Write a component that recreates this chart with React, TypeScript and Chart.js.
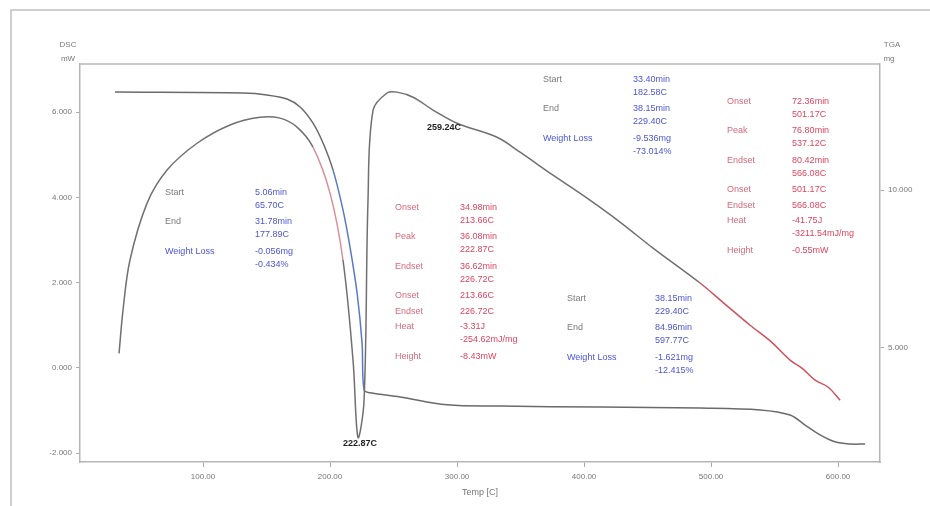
import React, { useEffect, useRef } from "react";
import { Chart, registerables } from "chart.js";
Chart.register(...registerables);

// ---- data (temperature in C) ----
const tgaTemp = [30.7, 131.5, 150.4, 166.1, 176.4, 186.6, 194.5, 202.4, 210.2, 215.7, 221.3, 225.2, 226.8, 231.5, 255.1, 292.1, 333.9, 412.6, 491.3, 538.6, 562.2, 574.0, 585.8, 597.6, 609.4, 621.3];
const tgaMass = [13.10, 13.07, 13.01, 12.88, 12.63, 12.12, 11.49, 10.63, 9.37, 8.20, 6.74, 5.16, 3.67, 3.58, 3.45, 3.20, 3.16, 3.13, 3.10, 3.04, 2.88, 2.56, 2.25, 2.03, 1.96, 1.96];

const dscTemp = [33.9, 37.0, 42.5, 55.9, 71.7, 95.3, 121.3, 144.9, 160.6, 174.0, 186.6, 200.0, 210.2, 218.1, 222.0, 226.8, 229.9, 233.9, 244.9, 252.8, 265.4, 281.1, 300.0, 331.5, 349.6, 375.6, 402.4, 428.3, 454.3, 491.3, 510.0, 530.7, 547.0, 562.2, 572.0, 581.9, 592.0, 601.6];
const dscHeatFlow = [0.34, 1.35, 2.53, 3.86, 4.64, 5.27, 5.70, 5.88, 5.86, 5.65, 5.18, 4.10, 2.53, 0.18, -1.63, -0.76, 3.93, 6.05, 6.45, 6.47, 6.35, 6.05, 5.74, 5.41, 5.06, 4.52, 3.98, 3.42, 2.81, 1.99, 1.52, 1.00, 0.62, 0.18, -0.02, -0.29, -0.45, -0.76];

const xTickValues = [100, 200, 300, 400, 500, 600];
const dscTickValues = [-2, 0, 2, 4, 6];
const tgaTickValues = [5, 10];

// ---- annotation texts ----
const blueLeftRows: [string, string[]][] = [["Start", ["5.06min", "65.70C"]], ["End", ["31.78min", "177.89C"]], ["Weight Loss", ["-0.056mg", "-0.434%"]]];
const blueTopRows: [string, string[]][] = [["Start", ["33.40min", "182.58C"]], ["End", ["38.15min", "229.40C"]], ["Weight Loss", ["-9.536mg", "-73.014%"]]];
const blueBottomRows: [string, string[]][] = [["Start", ["38.15min", "229.40C"]], ["End", ["84.96min", "597.77C"]], ["Weight Loss", ["-1.621mg", "-12.415%"]]];
const redMidRows: [string, string[]][] = [["Onset", ["34.98min", "213.66C"]], ["Peak", ["36.08min", "222.87C"]], ["Endset", ["36.62min", "226.72C"]], ["Onset", ["213.66C"]], ["Endset", ["226.72C"]], ["Heat", ["-3.31J", "-254.62mJ/mg"]], ["Height", ["-8.43mW"]]];
const redRightRows: [string, string[]][] = [["Onset", ["72.36min", "501.17C"]], ["Peak", ["76.80min", "537.12C"]], ["Endset", ["80.42min", "566.08C"]], ["Onset", ["501.17C"]], ["Endset", ["566.08C"]], ["Heat", ["-41.75J", "-3211.54mJ/mg"]], ["Height", ["-0.55mW"]]];
const peakLabels: [string, number, number][] = [["222.87C", 210.2, -1.77], ["259.24C", 276.4, 5.65]];

const BLUE = "#4b55d6";
const RED = "#e2445e";

const blocks = [
  { rows: blueLeftRows, labelT: 70.1, valueT: 140.9, startY: 4.12, kind: "blue" },
  { rows: blueTopRows, labelT: 367.7, valueT: 438.6, startY: 6.775, kind: "blue" },
  { rows: blueBottomRows, labelT: 386.6, valueT: 455.9, startY: 1.634, kind: "blue" },
  { rows: redMidRows, labelT: 251.2, valueT: 302.4, startY: 3.77, kind: "red" },
  { rows: redRightRows, labelT: 512.6, valueT: 563.8, startY: 6.258, kind: "red" },
];

const FONT = "'Liberation Sans', Arial, sans-serif";

const overlay = {
  id: "overlay",
  afterDraw(chart: any) {
    const ctx = chart.ctx;
    const a = chart.chartArea;
    const xs = chart.scales.x;
    const ys = chart.scales.y;
    ctx.save();
    // outer frame
    ctx.strokeStyle = "#cfcfcf";
    ctx.lineWidth = 2;
    ctx.beginPath();
    ctx.moveTo(11, 506);
    ctx.lineTo(11, 10);
    ctx.lineTo(930, 10);
    ctx.stroke();
    // top border of plot
    ctx.strokeStyle = "#b8b8b8";
    ctx.lineWidth = 1.5;
    ctx.beginPath();
    ctx.moveTo(a.left, a.top);
    ctx.lineTo(a.right, a.top);
    ctx.stroke();
    // axis titles
    ctx.fillStyle = "#777";
    ctx.font = `8px ${FONT}`;
    ctx.textBaseline = "middle";
    ctx.textAlign = "center";
    ctx.fillText("DSC", a.left - 12, 45);
    ctx.fillText("mW", a.left - 12, 59);
    ctx.fillText("TGA", a.right + 12, 45);
    ctx.fillText("mg", a.right + 9, 59);
    ctx.font = `9px ${FONT}`;
    ctx.fillText("Temp [C]", (a.left + a.right) / 2, 493);
    // blocks
    ctx.font = `9px ${FONT}`;
    ctx.textAlign = "left";
    for (const b of blocks) {
      const lx = xs.getPixelForValue(b.labelT);
      const vx = xs.getPixelForValue(b.valueT);
      let y = ys.getPixelForValue(b.startY);
      for (const [label, vals] of b.rows) {
        if (b.kind === "blue") {
          ctx.fillStyle = label === "Weight Loss" ? BLUE : "#7a7a7a";
        } else {
          ctx.fillStyle = "#d86a7c";
        }
        ctx.fillText(label, lx, y);
        ctx.fillStyle = b.kind === "blue" ? BLUE : RED;
        vals.forEach((v, i) => ctx.fillText(v, vx, y + i * 13));
        y += vals.length === 2 ? 29.5 : 15.5;
      }
    }
    // peak labels
    ctx.font = `bold 9px ${FONT}`;
    ctx.fillStyle = "#222";
    for (const [t, tx, ty] of peakLabels) {
      ctx.fillText(t, xs.getPixelForValue(tx), ys.getPixelForValue(ty));
    }
    ctx.restore();
  },
};

function segColor(ranges: [number, number, string][], base: string) {
  return (c: any) => {
    const t = (c.p0.parsed.x + c.p1.parsed.x) / 2;
    for (const [lo, hi, col] of ranges) if (t >= lo && t <= hi) return col;
    return base;
  };
}

export default function App() {
  const ref = useRef<HTMLCanvasElement>(null);
  useEffect(() => {
    document.body.style.margin = "0";
    const chart = new Chart(ref.current!, {
      type: "line",
      data: {
        datasets: [
          {
            label: "DSC",
            data: dscTemp.map((t, i) => ({ x: t, y: dscHeatFlow[i] })),
            yAxisID: "y",
            borderColor: "#707070",
            borderWidth: 1.5,
            pointRadius: 0,
            tension: 0.35,
            segment: { borderColor: segColor([[182, 214, "#d9909a"], [485, 700, "#d0505e"]], "#707070") },
          },
          {
            label: "TGA",
            data: tgaTemp.map((t, i) => ({ x: t, y: tgaMass[i] })),
            yAxisID: "y2",
            borderColor: "#6a6a6a",
            borderWidth: 1.5,
            pointRadius: 0,
            tension: 0.35,
            segment: { borderColor: segColor([[205, 226, "#5a78c8"]], "#6a6a6a") },
          },
        ],
      },
      options: {
        animation: false,
        responsive: false,
        parsing: true,
        layout: { padding: { top: 64, left: 0, right: 0, bottom: 0 } },
        plugins: { legend: { display: false }, tooltip: { enabled: false } },
        scales: {
          x: {
            type: "linear",
            min: 3.15,
            max: 633,
            afterBuildTicks: (s: any) => { s.ticks = xTickValues.map((v) => ({ value: v })); },
            afterFit: (s: any) => { s.height = 44; },
            ticks: { color: "#777", font: { size: 8, family: FONT }, padding: 5, maxRotation: 0, callback: (v: any) => Number(v).toFixed(2) },
            grid: { drawOnChartArea: false, tickLength: 5, color: "#aaa" },
            border: { color: "#b5b5b5", width: 1.5 },
          },
          y: {
            position: "left",
            min: -2.21,
            max: 7.13,
            afterBuildTicks: (s: any) => { s.ticks = dscTickValues.map((v) => ({ value: v })); },
            afterFit: (s: any) => { s.width = 80; },
            ticks: { color: "#777", font: { size: 8, family: FONT }, padding: 4, callback: (v: any) => Number(v).toFixed(3) },
            grid: { drawOnChartArea: false, tickLength: 4, color: "#aaa" },
            border: { color: "#b5b5b5", width: 1.5 },
          },
          y2: {
            position: "right",
            min: 1.39,
            max: 13.99,
            afterBuildTicks: (s: any) => { s.ticks = tgaTickValues.map((v) => ({ value: v })); },
            afterFit: (s: any) => { s.width = 50; },
            ticks: { color: "#777", font: { size: 8, family: FONT }, padding: 4, callback: (v: any) => Number(v).toFixed(3) },
            grid: { drawOnChartArea: false, tickLength: 4, color: "#aaa" },
            border: { color: "#b5b5b5", width: 1.5 },
          },
        },
      },
      plugins: [overlay],
    });
    return () => chart.destroy();
  }, []);
  return (
    <div style={{ position: "absolute", left: 0, top: 0, width: 930, height: 506, background: "#fff" }}>
      <canvas ref={ref} width={930} height={506} style={{ width: 930, height: 506 }} />
    </div>
  );
}
